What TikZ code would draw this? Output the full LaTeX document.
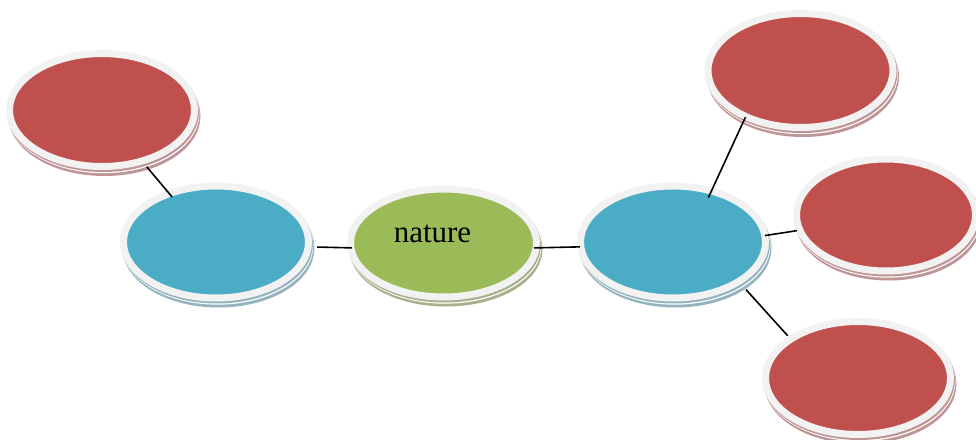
\documentclass[tikz,border=0pt]{standalone}
\usepackage{fontspec}
\setmainfont{Liberation Serif}
\usetikzlibrary{shapes.geometric}
\definecolor{ringgray}{HTML}{F2F2F2}
\definecolor{bubred}{HTML}{C0504D}
\definecolor{bubblue}{HTML}{4BACC6}
\definecolor{bubgreen}{HTML}{9BBB59}
\definecolor{shred}{HTML}{BE9494}
\definecolor{shblue}{HTML}{94B3BE}
\definecolor{shgreen}{HTML}{A7B08C}
\tikzset{
  bubble/.style={ellipse, draw=ringgray, line width=7pt, inner sep=0pt, outer sep=0pt,
    minimum width=185pt, minimum height=112pt,
    preaction={draw=#1, fill=#1, line width=7pt, transform canvas={shift={(2.5pt,-6pt)}}},
    preaction={draw=white, fill=white, line width=7pt, transform canvas={shift={(1.5pt,-3.2pt)}}},
    preaction={draw=#1, fill=#1, line width=7pt, transform canvas={shift={(1pt,-2pt)}}}},
  redbub/.style={bubble=shred, fill=bubred},
  bluebub/.style={bubble=shblue, fill=bubblue},
  greenbub/.style={bubble=shgreen, fill=bubgreen},
  link/.style={draw=black, line width=1.6pt},
}
\begin{document}
\begin{tikzpicture}[x=1pt,y=-1pt]
\fill[white] (0,0) rectangle (976,439);
\useasboundingbox (0,0) rectangle (976,439);
% nodes
\node[redbub, minimum height=113pt] (rtl) at (102,110) {};
\node[bluebub] (bl) at (216,242) {};
\node[greenbub, minimum width=186pt, minimum height=108pt,
      label={[inner sep=0pt, xshift=-11pt, yshift=9pt,
              font=\fontsize{31}{36}\selectfont]center:nature}] (g) at (443.5,243) {};
\node[bluebub] (br) at (673,242) {};
\node[redbub, minimum height=114pt] (rtr) at (800.5,70.5) {};
\node[redbub, minimum width=179pt] (rmr) at (886,215) {};
\node[redbub, minimum height=113pt] (rbr) at (858,378) {};
% connectors
\draw[link, shorten <=7.6pt, shorten >=-4.4pt] (rtl.-52.6) -- (bl.134.6);
\draw[link, shorten <=9pt, shorten >=-1.1pt] (bl.-3.7) -- (g.183.1);
\draw[link, shorten <=-2.1pt, shorten >=1pt] (g.-3.1) -- (br.183.7);
\draw[link, shorten <=-7.2pt, shorten >=0.8pt] (br.53.5) -- (rtr.220.2);
\draw[link, shorten >=3.1pt] (br.4.35) -- (rmr.190.3);
\draw[link, shorten <=11pt, shorten >=4.7pt] (br.-31.2) -- (rbr.150.4);
\end{tikzpicture}
\end{document}
